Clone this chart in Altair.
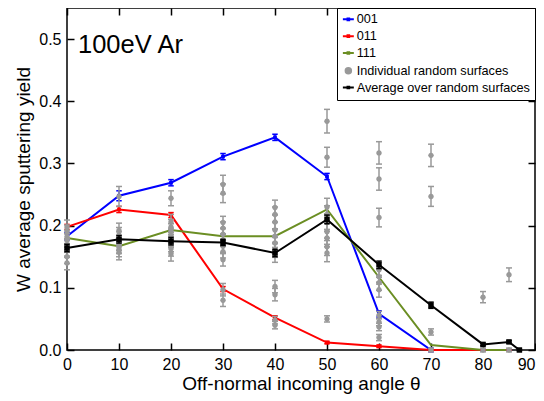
import altair as alt
import pandas as pd

# ---- data ----
series_names = ["001", "011", "111", "Individual random surfaces", "Average over random surfaces"]
series_colors = ["#0000ff", "#ff0000", "#6b8e23", "#999999", "#000000"]

angles = [0, 10, 20, 30, 40, 50, 60, 70, 80, 85]
y001 = [0.183, 0.248, 0.269, 0.311, 0.342, 0.279, 0.058, 0.0, 0.0, 0.0]
e001 = [0.006, 0.008, 0.005, 0.005, 0.005, 0.005, 0.005, 0.003, 0.0, 0.0]
y011 = [0.198, 0.226, 0.217, 0.098, 0.052, 0.012, 0.006, 0.0, 0.0, 0.0]
e011 = [0.004, 0.005, 0.004, 0.004, 0.003, 0.002, 0.002, 0.001, 0.0, 0.0]
y111 = [0.180, 0.167, 0.193, 0.183, 0.183, 0.226, 0.117, 0.008, 0.0, 0.0]

avg_angles = [0, 10, 20, 30, 40, 50, 60, 70, 80, 85, 87]
yavg = [0.164, 0.178, 0.175, 0.173, 0.156, 0.210, 0.137, 0.072, 0.009, 0.013, 0.0]
eavg = [0.006, 0.006, 0.006, 0.005, 0.006, 0.007, 0.006, 0.005, 0.002, 0.002, 0.001]

g_angle = ([0] * 8 + [10] * 8 + [20] * 9 + [30] * 11 + [40] * 12 + [50] * 10
           + [60] * 11 + [70] * 4 + [80] * 2 + [85] * 2)
g_value = [0.198, 0.190, 0.182, 0.176, 0.168, 0.160, 0.150, 0.140,
           0.247, 0.192, 0.185, 0.178, 0.172, 0.167, 0.162, 0.157,
           0.244, 0.206, 0.198, 0.191, 0.184, 0.177, 0.170, 0.163, 0.155,
           0.266, 0.252, 0.205, 0.196, 0.186, 0.177, 0.167, 0.158, 0.145, 0.097, 0.080,
           0.229, 0.218, 0.206, 0.193, 0.183, 0.172, 0.161, 0.153, 0.102, 0.089, 0.048, 0.040,
           0.368, 0.310, 0.230, 0.218, 0.205, 0.190, 0.180, 0.166, 0.156, 0.050,
           0.317, 0.275, 0.213, 0.129, 0.118, 0.108, 0.097, 0.056, 0.045, 0.037, 0.020,
           0.313, 0.247, 0.029, 0.0,
           0.085, 0.0,
           0.121, 0.0]
g_err = [0.011] * 8 + \
        [0.016] + [0.012] * 7 + \
        [0.012] + [0.012] * 8 + \
        [0.015, 0.015] + [0.010] * 7 + [0.010, 0.010] + \
        [0.012] * 8 + [0.010, 0.010, 0.006, 0.006] + \
        [0.019, 0.016] + [0.014] * 7 + [0.005] + \
        [0.018, 0.018, 0.015] + [0.012] * 4 + [0.006] * 3 + [0.005] + \
        [0.018, 0.016, 0.005, 0.003] + \
        [0.009, 0.003] + \
        [0.011, 0.003]

label_text = "100eV Ar"
x_ticks = [0, 10, 20, 30, 40, 50, 60, 70, 80, 90]
y_ticks = [0.0, 0.1, 0.2, 0.3, 0.4, 0.5]

# ---- tables ----
rows = []
for name, ys, es in [("001", y001, e001), ("011", y011, e011), ("111", y111, [0.0] * len(y111))]:
    for a, v, e in zip(angles, ys, es):
        rows.append({"angle": a, "value": v, "lo": v - e, "hi": v + e, "series": name})
for a, v, e in zip(avg_angles, yavg, eavg):
    rows.append({"angle": a, "value": v, "lo": v - e, "hi": v + e, "series": series_names[4]})
df_lines = pd.DataFrame(rows)

df_grey = pd.DataFrame({"angle": g_angle, "value": g_value, "err": g_err})
df_grey["lo"] = df_grey["value"] - df_grey["err"]
df_grey["hi"] = df_grey["value"] + df_grey["err"]
df_grey["series"] = series_names[3]

FONT = "Liberation Sans"
xs = alt.Scale(domain=[0, 90], nice=False, zero=False)
ys = alt.Scale(domain=[0, 0.55], nice=False, zero=False)

ax_bottom = alt.Axis(values=x_ticks, tickSize=7, offset=-7, domain=False, grid=False,
                     title="Off-normal incoming angle θ", labelFontSize=16, titleFontSize=19,
                     labelPadding=6, titlePadding=2, labelFont=FONT, titleFont=FONT,
                     titleFontWeight="normal", tickColor="black", tickWidth=1.5,
                     labelColor="black", titleColor="black", labelFlush=False,
                     labelAlign={"condition": {"test": "datum.value >= 90", "value": "right"},
                                 "value": "center"})
ax_left = alt.Axis(values=y_ticks, format=".1f", tickSize=7, offset=-7, domain=False, grid=False,
                   title="W average sputtering yield", labelFontSize=16, titleFontSize=19,
                   labelPadding=6, titlePadding=5, labelFont=FONT, titleFont=FONT,
                   titleFontWeight="normal", tickColor="black", tickWidth=1.5,
                   labelColor="black", titleColor="black", labelFlush=False)
ax_top = alt.Axis(orient="top", values=x_ticks, tickSize=7, offset=-7, domain=False, grid=False,
                  labels=False, title=None, tickColor="black", tickWidth=1.5)
ax_right = alt.Axis(orient="right", values=y_ticks, tickSize=7, offset=-7, domain=False, grid=False,
                    labels=False, title=None, tickColor="black", tickWidth=1.5)

color_scale = alt.Scale(domain=series_names, range=series_colors)
line_path = "M-2,0H2M-0.3,-0.3H0.3V0.3H-0.3Z"
circle_path = "M-1,0A1,1 0 1,0 1,0A1,1 0 1,0 -1,0Z"
shape_scale = alt.Scale(domain=series_names,
                        range=[line_path, line_path, line_path, circle_path, line_path])

X = alt.X("angle:Q", scale=xs, axis=ax_bottom)
Y = alt.Y("value:Q", scale=ys, axis=ax_left)
Ylo = alt.Y("lo:Q", scale=ys, axis=ax_left)

legend = alt.Legend(title=None, orient="top-right", offset=0)


def errbars(df, color, cap, width):
    rule = alt.Chart(df).mark_rule(color=color, strokeWidth=width).encode(x=X, y=Ylo, y2="hi:Q")
    lo = alt.Chart(df).mark_point(shape="stroke", color=color, size=cap, strokeWidth=width,
                                  filled=False, opacity=1).encode(x=X, y=Ylo)
    hi = alt.Chart(df).mark_point(shape="stroke", color=color, size=cap, strokeWidth=width,
                                  filled=False, opacity=1).encode(x=X, y=alt.Y("hi:Q", scale=ys, axis=ax_left))
    return [rule, lo, hi]


layers = []
# crystal surfaces lines
df_cryst = df_lines[df_lines["series"].isin(series_names[:3])]
layers.append(alt.Chart(df_cryst).mark_line(strokeWidth=2).encode(
    x=X, y=Y, color=alt.Color("series:N", scale=color_scale, legend=legend),
    detail="series:N"))
for name, col in [("001", "#0000ff"), ("011", "#ff0000")]:
    d = df_lines[df_lines["series"] == name]
    layers += errbars(d, col, 30, 1.5)
    layers.append(alt.Chart(d).mark_square(color=col, size=14, opacity=1).encode(x=X, y=Y))

# individual random surfaces
layers += errbars(df_grey, "#999999", 36, 1.5)
layers.append(alt.Chart(df_grey).mark_point(filled=True, opacity=1).encode(
    x=X, y=Y,
    color=alt.Color("series:N", scale=color_scale, legend=legend),
    shape=alt.Shape("series:N", scale=shape_scale, legend=legend)))

# average
d_avg = df_lines[df_lines["series"] == series_names[4]]
layers.append(alt.Chart(d_avg).mark_line(strokeWidth=2).encode(
    x=X, y=Y, color=alt.Color("series:N", scale=color_scale, legend=legend)))
layers += errbars(d_avg, "#000000", 30, 1.5)
layers.append(alt.Chart(d_avg).mark_square(color="#000000", size=30, opacity=1).encode(x=X, y=Y))

# label
layers.append(alt.Chart(pd.DataFrame({"t": [label_text]})).mark_text(
    align="left", baseline="middle", fontSize=25.5, font=FONT, color="black").encode(
    x=alt.value(11), y=alt.value(37), text="t:N"))

inner = alt.layer(*layers)
mirror = alt.Chart(df_grey).mark_point(opacity=0).encode(
    x=alt.X("angle:Q", scale=xs, axis=ax_top),
    y=alt.Y("value:Q", scale=ys, axis=ax_right))

chart = alt.layer(inner, mirror).resolve_axis(x="independent", y="independent").properties(
    width=468, height=342,
    autosize=alt.AutoSizeParams(type="none"),
    padding={"left": 59, "top": 0, "right": 1, "bottom": 44},
).configure_view(stroke="black", strokeWidth=1.5).configure_legend(
    strokeColor="black", fillColor="white", padding=5, labelFont=FONT, labelFontSize=12.7,
    labelColor="black", symbolSize=30, symbolStrokeWidth=2, rowPadding=2.8, labelOffset=2,
    cornerRadius=0, strokeWidth=1, labelLimit=300)

chart.save("out.html", embed_options={"renderer": "svg", "actions": False})
